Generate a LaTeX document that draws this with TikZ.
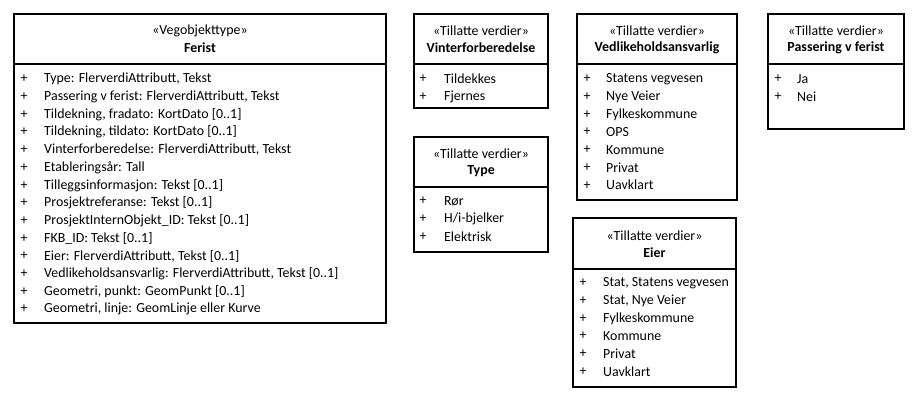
\documentclass[tikz,border=0pt]{standalone}
\usepackage{fontspec}
\setmainfont{Carlito}
\usetikzlibrary{shadows}
\newcommand\ufont{\fontsize{13.9}{16}\selectfont}
\begin{document}
\begin{tikzpicture}[x=1pt,y=-1pt,
  box/.style={draw=black, line width=1.1pt, fill=white, inner sep=0pt,
    drop shadow={shadow xshift=1.3pt, shadow yshift=-1.3pt, fill=black!45, opacity=1}},
  sep/.style={draw=black, line width=1.1pt},
  txt/.style={inner sep=0pt, font=\ufont},
  clsname/.style={inner sep=0pt, font=\ufont\bfseries},
  attr/.style={txt, anchor=west},
  plus/.style={txt}
]
\useasboundingbox (0,0) rectangle (922,402);
\fill[white] (0,0) rectangle (922,402);

% ---------- Ferist ----------
\node[box, minimum width=372pt, minimum height=309pt] (ferist) at (200,168.5) {};
\draw[sep] (ferist.west |- 0,64) -- (ferist.east |- 0,64);
\node[txt] (feristS) at (200,31) {«Vegobjekttype»};
\node[clsname] (feristN) at (200,48) {Ferist};
\foreach \t [count=\i] in {
  {Type: FlerverdiAttributt, Tekst},
  {Passering v ferist: FlerverdiAttributt, Tekst},
  {Tildekning, fradato: KortDato [0..1]},
  {Tildekning, tildato: KortDato [0..1]},
  {Vinterforberedelse: FlerverdiAttributt, Tekst},
  {Etableringsår: Tall},
  {Tilleggsinformasjon: Tekst [0..1]},
  {Prosjektreferanse: Tekst [0..1]},
  {ProsjektInternObjekt\_ID: Tekst [0..1]},
  {FKB\_ID: Tekst [0..1]},
  {Eier: FlerverdiAttributt, Tekst [0..1]},
  {Vedlikeholdsansvarlig: FlerverdiAttributt, Tekst [0..1]},
  {Geometri, punkt: GeomPunkt [0..1]},
  {Geometri, linje: GeomLinje eller Kurve}} {
  \node[plus] (feristP\i) at (24,{79+(\i-1)*17.7}) {+};
  \node[attr] (feristA\i) at (44,{79+(\i-1)*17.7}) {\t};
}

% ---------- Vinterforberedelse ----------
\node[box, minimum width=134pt, minimum height=94pt] (vinter) at (481,61) {};
\draw[sep] (vinter.west |- 0,64) -- (vinter.east |- 0,64);
\node[txt] (vinterS) at (481,31) {«Tillatte verdier»};
\node[clsname] (vinterN) at (481,48) {Vinterforberedelse};
\foreach \t [count=\i] in {Tildekkes, Fjernes} {
  \node[plus] (vinterP\i) at (423,{79+(\i-1)*17.7}) {+};
  \node[attr] (vinterA\i) at (444,{79+(\i-1)*17.7}) {\t};
}

% ---------- Vedlikeholdsansvarlig ----------
\node[box, minimum width=160pt, minimum height=186pt] (vedl) at (657,107) {};
\draw[sep] (vedl.west |- 0,64) -- (vedl.east |- 0,64);
\node[txt] (vedlS) at (657,31) {«Tillatte verdier»};
\node[clsname] (vedlN) at (657,48) {Vedlikeholdsansvarlig};
\foreach \t [count=\i] in {Statens vegvesen, Nye Veier, Fylkeskommune, OPS, Kommune, Privat, Uavklart} {
  \node[plus] (vedlP\i) at (587,{79+(\i-1)*17.7}) {+};
  \node[attr] (vedlA\i) at (606,{79+(\i-1)*17.7}) {\t};
}

% ---------- Passering v ferist ----------
\node[box, minimum width=136pt, minimum height=115pt] (pass) at (836,71.5) {};
\draw[sep] (pass.west |- 0,64) -- (pass.east |- 0,64);
\node[txt] (passS) at (836,31) {«Tillatte verdier»};
\node[clsname] (passN) at (836,48) {Passering v ferist};
\foreach \t [count=\i] in {Ja, Nei} {
  \node[plus] (passP\i) at (778,{79+(\i-1)*17.7}) {+};
  \node[attr] (passA\i) at (797,{79+(\i-1)*17.7}) {\t};
}

% ---------- Type ----------
\node[box, minimum width=134pt, minimum height=115pt] (type) at (481,194.5) {};
\draw[sep] (type.west |- 0,187) -- (type.east |- 0,187);
\node[txt] (typeS) at (481,154) {«Tillatte verdier»};
\node[clsname] (typeN) at (481,171) {Type};
\foreach \t [count=\i] in {Rør, H/i-bjelker, Elektrisk} {
  \node[plus] (typeP\i) at (423,{201+(\i-1)*17.7}) {+};
  \node[attr] (typeA\i) at (444,{201+(\i-1)*17.7}) {\t};
}

% ---------- Eier ----------
\node[box, minimum width=163pt, minimum height=169pt] (eier) at (654.5,302.5) {};
\draw[sep] (eier.west |- 0,269) -- (eier.east |- 0,269);
\node[txt] (eierS) at (654.5,236) {«Tillatte verdier»};
\node[clsname] (eierN) at (654.5,253) {Eier};
\foreach \t [count=\i] in {{Stat, Statens vegvesen}, {Stat, Nye Veier}, Fylkeskommune, Kommune, Privat, Uavklart} {
  \node[plus] (eierP\i) at (583,{283+(\i-1)*17.7}) {+};
  \node[attr] (eierA\i) at (603,{283+(\i-1)*17.7}) {\t};
}
\end{tikzpicture}
\end{document}
